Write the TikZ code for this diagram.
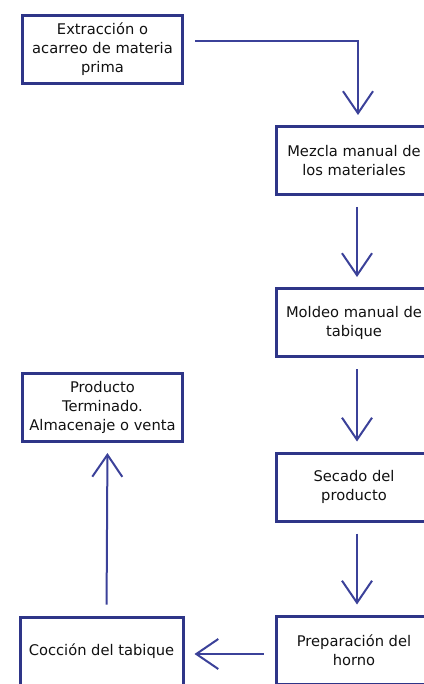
\documentclass[tikz,border=0pt]{standalone}
\usepackage{fontspec}
\setmainfont{DejaVu Sans}
\usepackage{tikz}
\usetikzlibrary{positioning,arrows.meta}
\usepackage{xcolor}
\definecolor{boxblue}{HTML}{2E3588}
\definecolor{lineblue}{HTML}{3B4199}
\definecolor{ink}{HTML}{111111}

\begin{document}
\begin{tikzpicture}[x=1pt, y=1pt,
    >={Straight Barb[length=22pt, width=30pt, line width=2pt]},
    font=\fontsize{14.7}{19}\selectfont,
    stage/.style={draw=boxblue, line width=3pt, text=ink, align=center,
                  minimum width=160pt, minimum height=68pt, inner sep=0pt},
    cut/.style={stage, minimum width=156pt},
    flow/.style={->, lineblue, line width=2pt, shorten <=11pt, shorten >=10pt}]
    \useasboundingbox (0,0) rectangle (423,-684);
    % left column
    \node[stage] (extract) at (102.5,-49.5) {Extracción o\\acarreo de materia\\prima};
    \node[stage] (stock) at (102.5,-407.5) {Producto\\Terminado.\\Almacenaje o venta};
    \node[stage, minimum width=163pt] (fire) at (101.5,-651) {Cocción del tabique};
    % right column, cut off by the page edge
    \node[cut] (mix) at (354,-160.5) {Mezcla manual de\\los materiales};
    \node[cut] (mould) at (354,-322.5) {Moldeo manual de\\tabique};
    \node[cut] (dry) at (354,-487) {Secado del\\producto};
    \node[cut] (kiln) at (354,-650) {Preparación del\\horno};
    % connectors
    \draw[flow] ([yshift=8pt]extract.east) -| ([xshift=4pt]mix.north);
    \draw[flow] ([xshift=3pt]mix.south) -- ([xshift=3pt]mould.north);
    \draw[flow] ([xshift=3pt]mould.south) -- ([xshift=3pt]dry.north);
    \draw[flow] ([xshift=3pt]dry.south) -- ([xshift=3pt]kiln.north);
    \draw[flow] ([yshift=-4pt]kiln.west) -- ([yshift=-3pt]fire.east);
    \draw[flow] ([xshift=5pt]fire.north) -- ([xshift=5pt]stock.south);
\end{tikzpicture}
\end{document}
